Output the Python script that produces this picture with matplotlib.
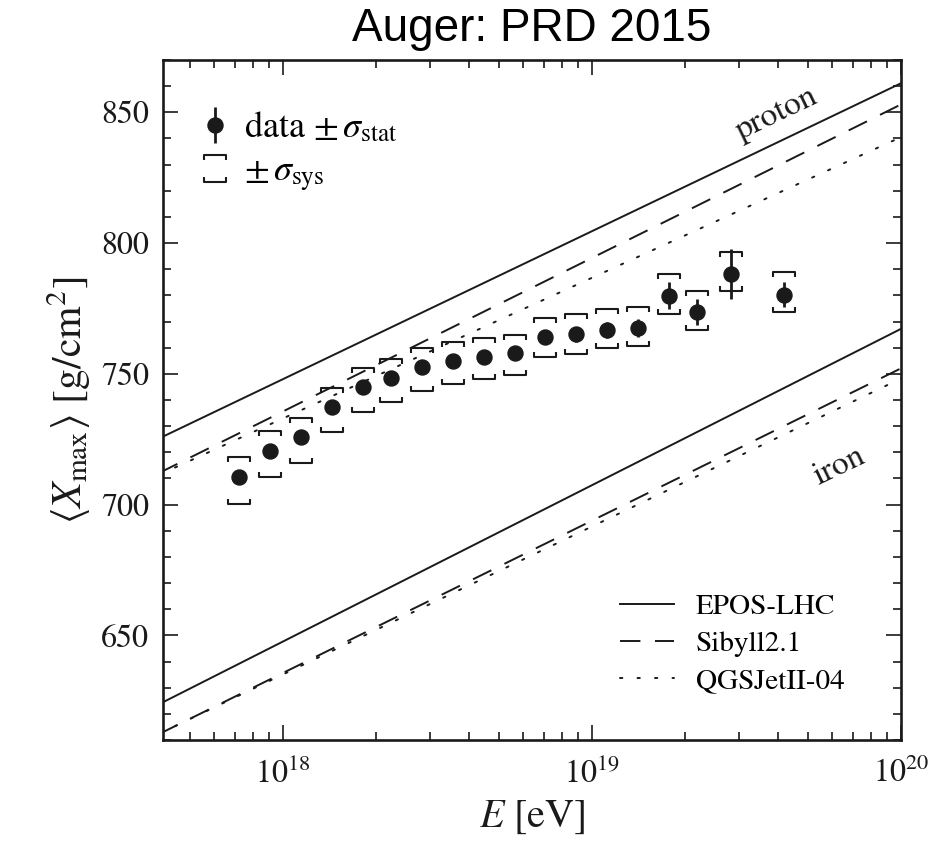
import numpy as np
import matplotlib
matplotlib.use("Agg")
import matplotlib.pyplot as plt
from matplotlib.path import Path
from matplotlib.lines import Line2D
from matplotlib.legend_handler import HandlerBase
from matplotlib.ticker import MultipleLocator, LogLocator, NullFormatter

# <Xmax> per energy bin
lg_energy = [17.86, 17.96, 18.06, 18.16, 18.26, 18.35, 18.45, 18.55, 18.65,
             18.75, 18.85, 18.95, 19.05, 19.15, 19.25, 19.34, 19.45, 19.62]
xmax_mean = [710.7, 720.6, 725.9, 737.4, 745.0, 748.5, 752.7, 755.0, 756.5,
             758.0, 764.1, 765.1, 766.8, 767.6, 779.9, 773.7, 788.2, 780.2]
xmax_stat = [1.0, 1.0, 1.0, 1.0, 1.1, 1.2, 1.3, 1.5, 1.7,
             1.9, 2.2, 2.8, 3.2, 3.5, 5.1, 5.1, 9.5, 4.8]
sys_up = [7.6, 7.5, 7.1, 7.1, 7.1, 7.3, 7.1, 7.1, 7.1,
          6.9, 7.1, 7.6, 8.0, 7.9, 8.3, 8.1, 8.5, 8.9]
sys_down = [10.3, 10.0, 10.0, 9.7, 9.7, 9.3, 9.4, 8.8, 8.4,
            8.3, 7.7, 7.6, 7.0, 6.8, 7.0, 6.9, 6.6, 6.4]

# model predictions, straight lines in lg E
model_lg_energy = [17.6, 20.0]
models = ["EPOS-LHC", "Sibyll2.1", "QGSJetII-04"]
proton_xmax = {"EPOS-LHC": [725.3, 861.1],
               "Sibyll2.1": [712.1, 853.0],
               "QGSJetII-04": [711.4, 840.5]}
iron_xmax = {"EPOS-LHC": [623.7, 767.2],
             "Sibyll2.1": [612.3, 752.1],
             "QGSJetII-04": [612.4, 748.2]}

plt.rcParams["font.family"] = ["STIXGeneral", "DejaVu Serif"]
plt.rcParams["mathtext.fontset"] = "stix"

INK = "#1a1a1a"
LW = 1.4
styles = {"EPOS-LHC": dict(linestyle="-"),
          "Sibyll2.1": dict(dashes=(10.5, 7.5)),
          "QGSJetII-04": dict(dashes=(1.2, 7.8), dash_capstyle="round")}

# open bracket markers for the systematic band
top_bracket = Path([(-1, -0.45), (-1, 0), (1, 0), (1, -0.45)],
                   [Path.MOVETO, Path.LINETO, Path.LINETO, Path.LINETO])
bottom_bracket = Path([(-1, 0.45), (-1, 0), (1, 0), (1, 0.45)],
                      [Path.MOVETO, Path.LINETO, Path.LINETO, Path.LINETO])
bracket_kw = dict(linestyle="none", markersize=15.8, markeredgewidth=1.5,
                  markeredgecolor=INK, markerfacecolor="none")


class BracketHandler(HandlerBase):
    def create_artists(self, legend, orig_handle, xdescent, ydescent,
                       width, height, fontsize, trans):
        xc = 0.5 * width - xdescent
        yc = 0.5 * height - ydescent
        half = 9.7
        up = Line2D([xc], [yc + half], marker=top_bracket, **bracket_kw)
        lo = Line2D([xc], [yc - half], marker=bottom_bracket, **bracket_kw)
        for a in (up, lo):
            a.set_transform(trans)
        return [up, lo]


fig = plt.figure(figsize=(9.49, 8.58), dpi=100)
ax = fig.add_axes([0.1718, 0.1375, 0.7776, 0.7926])

energy = 10 ** np.array(lg_energy)
mean = np.array(xmax_mean)
model_energy = 10 ** np.array(model_lg_energy)

for name in models:
    ax.plot(model_energy, proton_xmax[name], color=INK, lw=LW, **styles[name])
    ax.plot(model_energy, iron_xmax[name], color=INK, lw=LW, **styles[name])

ax.plot(energy, mean + np.array(sys_up), marker=top_bracket, **bracket_kw)
ax.plot(energy, mean - np.array(sys_down), marker=bottom_bracket, **bracket_kw)
data = ax.errorbar(energy, mean, yerr=xmax_stat, fmt="o", color=INK,
                   markersize=10.8, elinewidth=2.0, capsize=0, zorder=5)

ax.text(10 ** 19.6, 849.5, "proton", rotation=25.6, fontsize=24,
        ha="center", va="center", color=INK)
ax.text(10 ** 19.8, 714.5, "iron", rotation=25.6, fontsize=24,
        ha="center", va="center", color=INK)

ax.set_xscale("log")
ax.set_xlim(4.1e17, 1e20)
ax.set_ylim(610, 870)
ax.yaxis.set_major_locator(MultipleLocator(50))
ax.yaxis.set_minor_locator(MultipleLocator(10))
ax.xaxis.set_major_locator(LogLocator(base=10, numticks=10))
ax.xaxis.set_minor_locator(LogLocator(base=10, subs=np.arange(2, 10), numticks=20))
ax.xaxis.set_minor_formatter(NullFormatter())

ax.tick_params(which="both", direction="in", top=True, right=True,
               colors=INK, labelsize=23, width=1.2)
ax.tick_params(which="major", length=11, pad=10)
ax.tick_params(which="minor", length=5.5)
ax.tick_params(axis="x", which="major", pad=13)
for sp in ax.spines.values():
    sp.set_linewidth(1.9)
    sp.set_color(INK)

ax.set_xlabel(r"$E\ [\mathrm{eV}]$", fontsize=29, labelpad=6, color=INK)
ax.set_ylabel(r"$\langle X_{\mathrm{max}}\rangle\ [\mathrm{g/cm^{2}}]$",
              fontsize=30, labelpad=6, color=INK)
fig.suptitle("Auger: PRD 2015", x=0.5605, y=0.992, fontsize=33,
             family="Liberation Sans", va="top")

sys_proxy = Line2D([], [])
leg1 = ax.legend([data, sys_proxy],
                 [r"data $\pm\,\sigma_{\mathrm{stat}}$", r"$\pm\,\sigma_{\mathrm{sys}}$"],
                 handler_map={sys_proxy: BracketHandler()},
                 loc="upper left", fontsize=26, frameon=False,
                 handlelength=1.0, handletextpad=0.3, labelspacing=0.3,
                 borderaxespad=0.0, bbox_to_anchor=(0.026, 0.947))
ax.add_artist(leg1)

model_handles = [Line2D([], [], color=INK, lw=LW, **styles[m]) for m in models]
ax.legend(model_handles, models, loc="lower right", fontsize=21, frameon=False,
          handlelength=1.85, handletextpad=0.75, labelspacing=0.37,
          borderaxespad=0.0, bbox_to_anchor=(0.939, 0.05))

fig.savefig("out.png", dpi=100)
